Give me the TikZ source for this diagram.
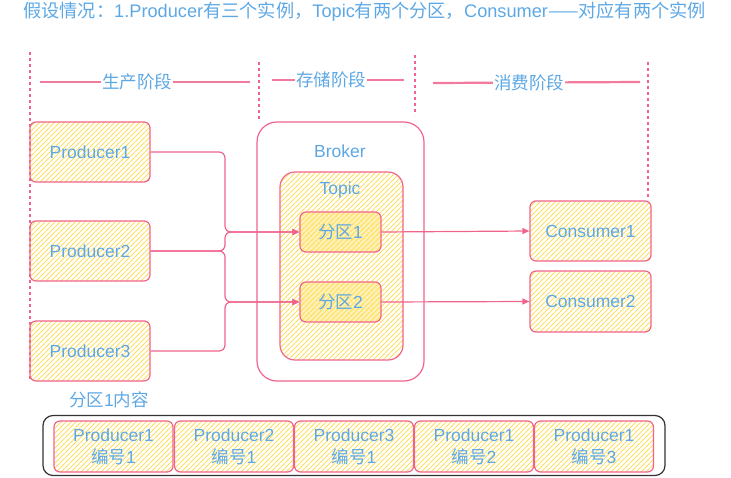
\documentclass[tikz,border=0pt]{standalone}
\usepackage{fontspec}
\setmainfont{Liberation Sans}
\newfontfamily\cjk{Noto Sans CJK SC}
\usetikzlibrary{patterns.meta,arrows.meta}
\newcommand{\zh}[1]{{\cjk #1}}
\definecolor{pinkline}{RGB}{240,100,140}
\definecolor{txtblue}{RGB}{93,168,228}
\definecolor{hatchy}{RGB}{255,222,90}
\tikzdeclarepattern{
  name=hatch,
  type=uncolored,
  bounding box={(0pt,0pt) and (5pt,5pt)},
  tile size={(5pt,5pt)},
  code={\draw[line width=1.1pt] (-1pt,-1pt) -- (6pt,6pt);}
}
\tikzset{
  x=1pt, y=-1pt,
  txt/.style={text=txtblue, font=\fontsize{17.5}{22}\selectfont},
  box/.style={txt, draw=pinkline, line width=1.2pt, rounded corners=6pt,
    pattern={hatch}, pattern color=hatchy, minimum width=120pt,
    minimum height=60pt, inner sep=0pt, align=center},
  partbox/.style={box, preaction={fill=hatchy!45}, minimum width=81pt, minimum height=40pt},
  cellbox/.style={box, minimum width=119pt, minimum height=51pt},
  frame/.style={draw=pinkline, line width=1.2pt},
  conn/.style={draw=pinkline, line width=1.2pt, rounded corners=6pt},
  arr/.style={conn, -{Triangle[length=7pt,width=6pt]}},
  phase/.style={draw=pinkline, line width=2pt, dash pattern=on 3pt off 3pt},
  stage/.style={draw=pinkline!85, line width=2.2pt},
  stagelbl/.style={txt, fill=white, inner sep=1pt},
}
\begin{document}
\begin{tikzpicture}
\useasboundingbox (0,0) rectangle (731,477);
% title
\node[txt, font=\fontsize{18.2}{22}\selectfont, anchor=west, inner sep=0pt] (title) at (23,12)
  {\zh{假设情况：}1.Producer\zh{有三个实例，}Topic\zh{有两个分区，}Consumer\zh{——对应有两个实例}};
% phase dividers
\coordinate (d1a) at (30,52);  \coordinate (d1b) at (30,380);
\coordinate (d2a) at (259,62); \coordinate (d2b) at (259,120);
\coordinate (d3a) at (415,55); \coordinate (d3b) at (415,115);
\coordinate (d4a) at (648,62); \coordinate (d4b) at (648,200);
\draw[phase] (d1a) -- (d1b);
\draw[phase] (d2a) -- (d2b);
\draw[phase] (d3a) -- (d3b);
\draw[phase] (d4a) -- (d4b);
% stage lines
\coordinate (s1a) at (40,82);  \coordinate (s1b) at (250,82);
\coordinate (s2a) at (272,80); \coordinate (s2b) at (404,80);
\coordinate (s3a) at (433,83); \coordinate (s3b) at (640,82);
\draw[stage] (s1a) -- (s1b);
\draw[stage] (s2a) -- (s2b);
\draw[stage] (s3a) -- (s3b);
\node[stagelbl] (l1) at (137,82) {\zh{生产阶段}};
\node[stagelbl] (l2) at (331,80) {\zh{存储阶段}};
\node[stagelbl] (l3) at (529,83) {\zh{消费阶段}};
% producers
\node[box] (p1) at (90,152) {Producer1};
\node[box] (p2) at (90,251) {Producer2};
\node[box] (p3) at (90,351) {Producer3};
% broker
\node[frame, rounded corners=20pt, minimum width=167pt, minimum height=259pt] (broker) at (340.5,251.5) {};
\node[txt] (brokerlbl) at (340,151) {Broker};
\node[box, rounded corners=15pt, minimum width=123pt, minimum height=188pt] (topic) at (341.5,266) {};
\node[txt] (topiclbl) at (340,190) {Topic};
\node[partbox] (q1) at (340.5,232) {\zh{分区}1};
\node[partbox] (q2) at (340.5,302) {\zh{分区}2};
% consumers
\node[box, minimum width=121pt] (c1) at (590.5,231) {Consumer1};
\node[box, minimum width=121pt, minimum height=61pt] (c2) at (590.5,301.5) {Consumer2};
% connectors
\coordinate (j1) at (225,232);
\coordinate (j2) at (225,302);
\draw[arr] (p1.east) -| (j1) -- (q1.west);
\draw[arr] (p2.east) -| (j1) -- (q1.west);
\draw[arr] (p2.east) -| (j2) -- (q2.west);
\draw[arr] (p3.east) -| (j2) -- (q2.west);
\draw[arr] (q1.east) -- (c1.west);
\draw[arr] (q2.east) -- (c2.west);
% partition content
\node[txt] (contentlbl) at (109,400) {\zh{分区}1\zh{内容}};
\node[draw=black!80, line width=1.2pt, rounded corners=10pt, minimum width=622pt, minimum height=60pt] (row) at (354,445.5) {};
\node[cellbox] (e1) at (113.5,446.5) {Producer1\\\zh{编号}1};
\node[cellbox] (e2) at (234,446.5) {Producer2\\\zh{编号}1};
\node[cellbox] (e3) at (354,446.5) {Producer3\\\zh{编号}1};
\node[cellbox] (e4) at (474,446.5) {Producer1\\\zh{编号}2};
\node[cellbox] (e5) at (594,446.5) {Producer1\\\zh{编号}3};
\end{tikzpicture}
\end{document}
